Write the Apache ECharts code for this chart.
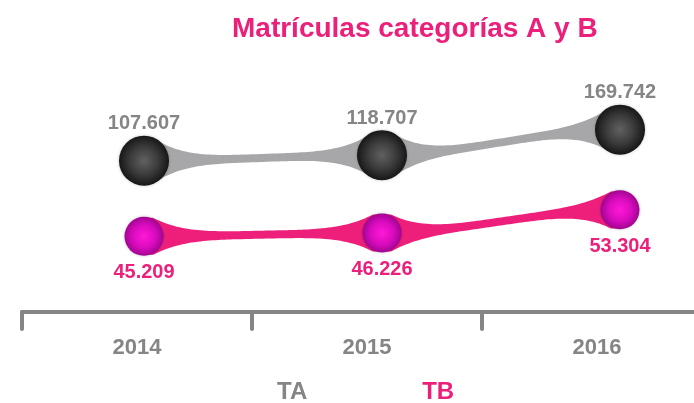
<!DOCTYPE html>
<html>
<head>
<meta charset="utf-8">
<title>Matrículas categorías A y B</title>
<script src="https://cdn.jsdelivr.net/npm/echarts@6.0.0/dist/echarts.min.js"></script>
<style>
    html, body { margin: 0; padding: 0; background: #ffffff; }
    #chart { width: 694px; height: 403px; }
</style>
</head>
<body>
<div id="chart"></div>
<script>
const years = ['2014', '2015', '2016'];
const taValues = [107607, 118707, 169742];
const tbValues = [45209, 46226, 53304];
const seriesNames = ['TA', 'TB'];

const gray = '#858585';
const pink = '#ec1f7a';
const font = '"Liberation Sans", Arial, Helvetica, sans-serif';

// 107607 -> "107.607"
const fmt = (v) => String(v).replace(/\B(?=(\d{3})+(?!\d))/g, '.');

// tapered band between two neighbouring points
const ribbon = (name, values, yIndex, halfMax, cap, waist, color) => {
    return {
        name: name,
        type: 'custom',
        xAxisIndex: 1,
        yAxisIndex: yIndex,
        silent: true,
        z: 1,
        data: values.map((v, i) => [i, v]),
        renderItem: (params, api) => {
            const i = params.dataIndex;
            if (i >= values.length - 1) {
                return { type: 'group', children: [] };
            }
            const p1 = api.coord([i, values[i]]);
            const p2 = api.coord([i + 1, values[i + 1]]);
            const top = [];
            const bottom = [];
            const steps = 80;
            for (let k = 0; k <= steps; k++) {
                const s = k / steps;
                const x = p1[0] + (p2[0] - p1[0]) * s;
                const e = s * s * (3 - 2 * s);
                const yc = p1[1] + (p2[1] - p1[1]) * e;
                let h = waist / 2 + (halfMax - waist / 2) * Math.pow(2 * s - 1, 4);
                h = Math.min(h, cap);
                top.push([x, yc - h]);
                bottom.unshift([x, yc + h]);
            }
            return {
                type: 'polygon',
                shape: { points: top.concat(bottom) },
                style: { fill: color }
            };
        }
    };
};

const ball = (name, values, yIndex, size, stops, labelColor, position, distance) => {
    return {
        name: name,
        type: 'scatter',
        xAxisIndex: 1,
        yAxisIndex: yIndex,
        symbolSize: size,
        z: 3,
        data: values,
        itemStyle: {
            opacity: 1,
            color: {
                type: 'radial',
                x: 0.5,
                y: 0.5,
                r: 0.5,
                colorStops: stops
            },
            shadowBlur: 3,
            shadowColor: 'rgba(0,0,0,0.25)'
        },
        label: {
            show: true,
            position: position,
            distance: distance,
            formatter: (p) => fmt(p.value),
            color: labelColor,
            fontSize: 20,
            fontWeight: 'bold',
            fontFamily: font
        }
    };
};

const myChart = echarts.init(document.getElementById('chart'));
const option = {
    backgroundColor: '#ffffff',
    animation: false,
    title: {
        text: 'Matrículas categorías A y B',
        left: 227,
        top: 10,
        textStyle: {
            color: pink,
            fontSize: 28,
            fontWeight: 'bold',
            fontFamily: font
        }
    },
    legend: {
        left: 267,
        top: 375,
        itemWidth: 0,
        itemHeight: 0,
        itemGap: 110,
        selectedMode: false,
        data: [
            { name: seriesNames[0], textStyle: { color: gray } },
            { name: seriesNames[1], textStyle: { color: pink } }
        ],
        textStyle: {
            fontSize: 24,
            fontWeight: 'bold',
            fontFamily: font
        }
    },
    grid: [
        { left: 22, width: 690, top: 0, height: 312, outerBoundsMode: 'none' },
        { left: 25, width: 714, top: 0, height: 312, outerBoundsMode: 'none' }
    ],
    xAxis: [
        {
            type: 'category',
            gridIndex: 0,
            data: years,
            boundaryGap: true,
            axisLine: {
                onZero: false,
                lineStyle: { color: gray, width: 4, cap: 'round' }
            },
            axisTick: {
                show: true,
                interval: 0,
                length: 17,
                lineStyle: { color: gray, width: 4, cap: 'round' }
            },
            axisLabel: {
                color: gray,
                fontSize: 22,
                fontWeight: 'bold',
                fontFamily: font,
                margin: 25
            },
            splitLine: { show: false }
        },
        {
            type: 'category',
            gridIndex: 1,
            data: years,
            show: false
        }
    ],
    yAxis: [
        { type: 'value', gridIndex: 0, show: false },
        { type: 'value', gridIndex: 1, show: false, min: -195000, max: 429000 },
        { type: 'value', gridIndex: 1, show: false, min: 22100, max: 117400 }
    ],
    series: [
        ribbon(seriesNames[0], taValues, 1, 30, 24, 8, '#a7a7aa'),
        ribbon(seriesNames[1], tbValues, 2, 24, 18.5, 8, '#ee1f7b'),
        ball(seriesNames[0], taValues, 1, 50,
            [{ offset: 0, color: '#616161' }, { offset: 0.55, color: '#3c3c3c' }, { offset: 1, color: '#171717' }],
            gray, 'top', 2),
        ball(seriesNames[1], tbValues, 2, 39,
            [{ offset: 0, color: '#ff18d8' }, { offset: 0.6, color: '#d80bbd' }, { offset: 1, color: '#a10590' }],
            pink, 'bottom', 7)
    ]
};
myChart.setOption(option);
</script>
</body>
</html>
